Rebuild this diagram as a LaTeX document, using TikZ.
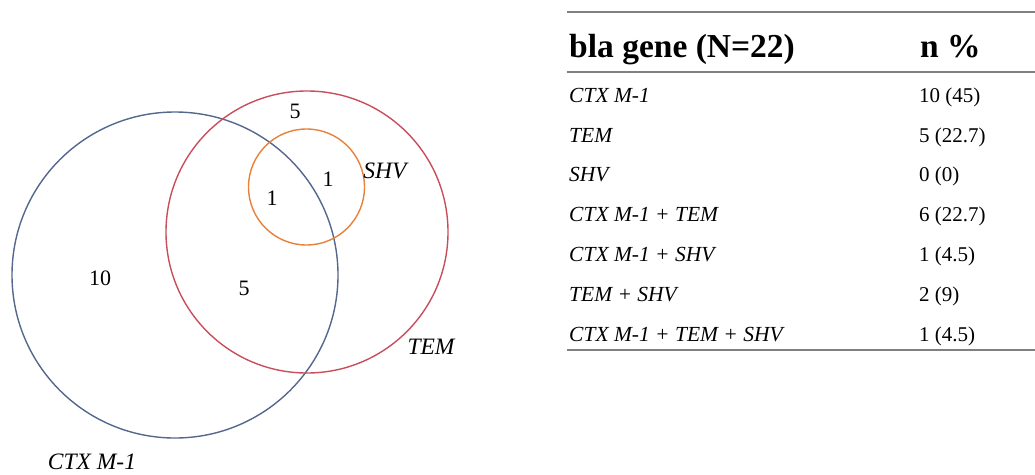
\documentclass[tikz,border=0pt]{standalone}
\usepackage{fontspec}
\setmainfont{Liberation Serif}
\usetikzlibrary{positioning}
\definecolor{ctxBlue}{RGB}{84,104,142}
\definecolor{temRed}{RGB}{201,78,92}
\definecolor{shvOrange}{RGB}{232,128,58}
\definecolor{ruleGrey}{RGB}{128,128,128}
\tikzset{vennpanel/.style={
  x=1pt, y=-1pt,
  set/.style={line width=1.4pt},
  count/.style={inner sep=0pt, font=\fontsize{22}{26}\selectfont},
  setlab/.style={inner sep=0pt, font=\fontsize{23.5}{28}\selectfont\itshape},
  rule/.style={line width=1.5pt, ruleGrey},
}}

\begin{document}
\begin{tikzpicture}[vennpanel,
  head/.style={inner sep=0pt, anchor=base west, font=\fontsize{33.5}{40}\selectfont\bfseries},
  gene/.style={inner sep=0pt, anchor=base west, font=\fontsize{21.5}{26}\selectfont\itshape},
  val/.style={inner sep=0pt, anchor=base west, font=\fontsize{21}{26}\selectfont},
]
\useasboundingbox (0,0) rectangle (1035,474);

% ---- the three gene sets ----
\draw[set, ctxBlue]   (175,275) circle (163);
\draw[set, temRed]    (307,232) circle (141);
\draw[set, shvOrange] (306.5,187) circle (58);

% ---- counts per region ----
\node[count] (nTem)    at (295,111.5) {5};
\node[count] (nCtxShv) at (272,198) {1};
\node[count] (nTemShv) at (328,179.5) {1};
\node[count] (nCtx)    at (100,278.5) {10};
\node[count] (nCtxTem) at (244,288) {5};

% ---- set names ----
\node[setlab] (lShv) at (385,171) {SHV};
\node[setlab] (lTem) at (431,347) {TEM};
\node[setlab] (lCtx) at (92,462) {CTX M-1};

% ---- table ----
\draw[rule] (567,12) -- (1035,12);
\draw[rule] (567,72) -- (1035,72);
\draw[rule] (567,350) -- (1035,350);

\node[head] (hGene) at (569,57) {bla gene (N=22)};
\node[head] (hN)    at (920,57) {n \%};

\node[gene] (g1) at (569,102) {CTX M-1};
\node[gene] (g2) at (569,142) {TEM};
\node[gene] (g3) at (569,181) {SHV};
\node[gene] (g4) at (569,221) {CTX M-1 + TEM};
\node[gene] (g5) at (569,261) {CTX M-1 + SHV};
\node[gene] (g6) at (569,301) {TEM + SHV};
\node[gene] (g7) at (569,341) {CTX M-1 + TEM + SHV};

\node[val] (v1) at (919,102) {10 (45)};
\node[val] (v2) at (919,142) {5 (22.7)};
\node[val] (v3) at (919,181) {0 (0)};
\node[val] (v4) at (919,221) {6 (22.7)};
\node[val] (v5) at (919,261) {1 (4.5)};
\node[val] (v6) at (919,301) {2 (9)};
\node[val] (v7) at (919,341) {1 (4.5)};

\end{tikzpicture}
\end{document}
